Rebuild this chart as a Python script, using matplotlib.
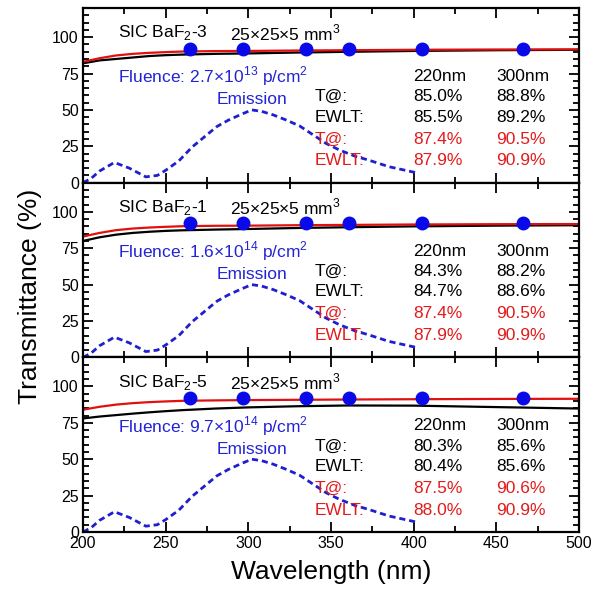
import numpy as np
import matplotlib
matplotlib.use('Agg')
import matplotlib.pyplot as plt
from matplotlib.ticker import MultipleLocator

plt.rcParams['font.family'] = ['Liberation Sans', 'DejaVu Sans']
plt.rcParams['mathtext.fontset'] = 'custom'
plt.rcParams['mathtext.rm'] = 'Liberation Sans'

txt_size = 12.5
blue_txt = '#2323d6'
red_txt = '#e31b1b'

# data
wl = [200, 210, 220, 230, 240, 250, 260, 280, 300, 330, 360, 400, 450, 500]
red_curves = [
    [83.0, 85.5, 87.4, 88.5, 89.2, 89.7, 90.1, 90.4, 90.5, 90.8, 91.0, 91.3, 91.5, 91.6],
    [83.0, 85.5, 87.4, 88.5, 89.2, 89.7, 90.1, 90.4, 90.5, 90.8, 91.0, 91.3, 91.5, 91.6],
    [84.0, 86.0, 87.5, 88.5, 89.2, 89.7, 90.1, 90.4, 90.6, 90.8, 91.0, 91.2, 91.4, 91.5],
]
black_curves = [
    [82.0, 84.0, 85.0, 86.0, 87.0, 87.6, 88.0, 88.5, 88.8, 89.4, 89.9, 90.5, 91.0, 91.3],
    [80.0, 82.5, 84.3, 85.5, 86.3, 86.9, 87.3, 87.8, 88.2, 88.9, 89.4, 90.0, 90.5, 90.8],
    [78.0, 79.3, 80.3, 81.3, 82.2, 83.0, 83.7, 84.8, 85.6, 86.4, 86.9, 86.8, 85.8, 84.8],
]
em_wl = [200, 205, 210, 219, 228, 238, 245, 250, 258, 266, 274, 281, 288, 295, 302,
         308, 315, 323, 331, 339, 347, 355, 365, 372, 385, 395, 401]
em_val = [0, 3, 8, 13.9, 10, 4, 5, 8.5, 15, 24.5, 32, 38.6, 43, 46.6, 50,
          49, 46.6, 43, 39, 33, 27, 22.5, 18, 15.8, 11, 8.5, 7]
dot_wl = [265, 297, 335, 361, 405, 466]
dot_val = [92, 92, 92, 92, 92, 92]

samples = ['3', '1', '5']
fluences = [r'2.7$\times$10$^{13}$', r'1.6$\times$10$^{14}$', r'9.7$\times$10$^{14}$']
t220 = ['85.0%', '84.3%', '80.3%']
t300 = ['88.8%', '88.2%', '85.6%']
ewlt220 = ['85.5%', '84.7%', '80.4%']
ewlt300 = ['89.2%', '88.6%', '85.6%']
t220_ref = ['87.4%', '87.4%', '87.5%']
t300_ref = ['90.5%', '90.5%', '90.6%']
ewlt220_ref = ['87.9%', '87.9%', '88.0%']
ewlt300_ref = ['90.9%', '90.9%', '90.9%']

fig = plt.figure(figsize=(6.02, 5.93), dpi=100)
W, H = 602, 593
left, right = 83, 579
tops = [8, 182.7, 357.3]
ph = 174.7

axes = []
for i in range(3):
    ax = fig.add_axes([left / W, 1 - (tops[i] + ph) / H, (right - left) / W, ph / H])
    axes.append(ax)

    ax.plot(em_wl, em_val, color='#1f1fd0', lw=2.0, ls=(0, (2.2, 1.4)))
    ax.plot(wl, black_curves[i], color='black', lw=1.6)
    ax.plot(wl, red_curves[i], color='#e01010', lw=1.6)
    ax.plot(dot_wl, dot_val, 'o', color='#0a0ae8', ms=9, ls='none')

    ax.set_xlim(200, 500)
    ax.set_ylim(0, 120)
    ax.xaxis.set_major_locator(MultipleLocator(50))
    ax.xaxis.set_minor_locator(MultipleLocator(25))
    ax.yaxis.set_major_locator(MultipleLocator(25))
    ax.yaxis.set_minor_locator(MultipleLocator(5))
    ax.set_yticks([0, 25, 50, 75, 100])
    ax.tick_params(which='both', direction='in', top=True, right=True, width=1.3,
                   labelsize=11.5, pad=3)
    ax.tick_params(which='major', length=7)
    ax.tick_params(which='minor', length=4)
    for s in ax.spines.values():
        s.set_linewidth(1.6)
    if i < 2:
        ax.tick_params(labelbottom=False)

    ax.text(221, 103, r'SIC BaF$_2$-' + samples[i], fontsize=txt_size, va='center')
    ax.text(289, 103, r'25$\times$25$\times$5 mm$^3$', fontsize=txt_size, va='center')
    ax.text(221, 73, 'Fluence: ' + fluences[i] + ' p/cm$^2$', fontsize=txt_size,
            va='center', color=blue_txt)
    ax.text(281, 57, 'Emission', fontsize=txt_size, va='center', color=blue_txt)

    rows = [
        ('', '220nm', '300nm', 'black', 73),
        ('T@:', t220[i], t300[i], 'black', 59),
        ('EWLT:', ewlt220[i], ewlt300[i], 'black', 45),
        ('T@:', t220_ref[i], t300_ref[i], red_txt, 30),
        ('EWLT:', ewlt220_ref[i], ewlt300_ref[i], red_txt, 15),
    ]
    for lab, a, b, c, y in rows:
        ax.text(340, y, lab, fontsize=txt_size, va='center', color=c)
        ax.text(399.5, y, a, fontsize=txt_size, va='center', color=c)
        ax.text(450, y, b, fontsize=txt_size, va='center', color=c)

axes[2].set_xlabel('Wavelength (nm)', fontsize=19, labelpad=6)
fig.text(30 / W, 0.5, 'Transmittance (%)', rotation=90, fontsize=19,
         va='center', ha='center')

fig.savefig('out.png', dpi=100)
